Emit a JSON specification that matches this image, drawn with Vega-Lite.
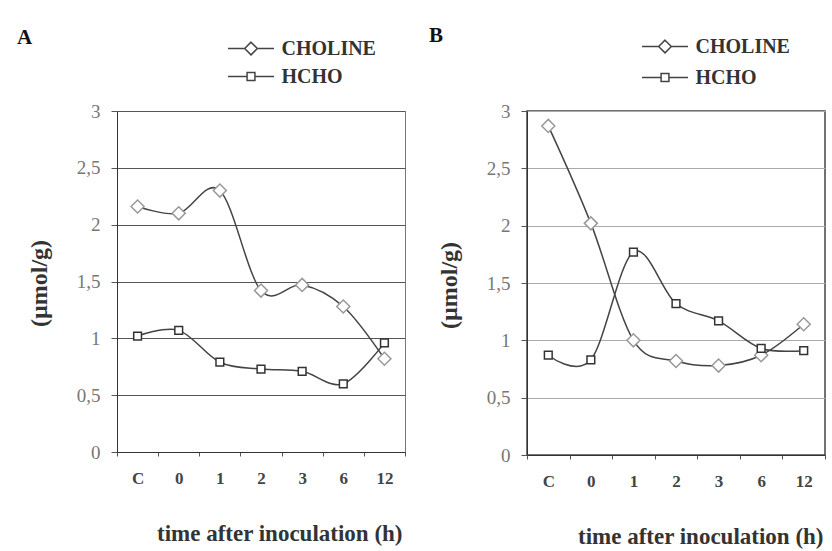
{
  "$schema": "https://vega.github.io/schema/vega-lite/v6.json",
  "background": "white",
  "padding": {"left": 16, "top": 24, "right": 5, "bottom": 5},
  "spacing": 22,
  "config": {
    "font": "Liberation Serif",
    "view": {"stroke": null}
  },
  "resolve": {
    "scale": {"x": "independent", "y": "independent", "shape": "independent"},
    "legend": {"shape": "independent"}
  },
  "hconcat": [
    {
      "width": 288,
      "height": 341,
      "view": {"stroke": "#777", "strokeWidth": 1},
      "title": {"text": "A", "anchor": "start", "frame": "group", "dx": -100, "offset": -29, "baseline": "alphabetic", "fontSize": 21, "font": "Liberation Serif", "fontWeight": "bold", "color": "#111"},
      "data": {"values": [
        {"time": "C", "series": "CHOLINE", "value": 2.16},
        {"time": "0", "series": "CHOLINE", "value": 2.10},
        {"time": "1", "series": "CHOLINE", "value": 2.30},
        {"time": "2", "series": "CHOLINE", "value": 1.42},
        {"time": "3", "series": "CHOLINE", "value": 1.47},
        {"time": "6", "series": "CHOLINE", "value": 1.28},
        {"time": "12", "series": "CHOLINE", "value": 0.82},
        {"time": "C", "series": "HCHO", "value": 1.02},
        {"time": "0", "series": "HCHO", "value": 1.07},
        {"time": "1", "series": "HCHO", "value": 0.79},
        {"time": "2", "series": "HCHO", "value": 0.73},
        {"time": "3", "series": "HCHO", "value": 0.71},
        {"time": "6", "series": "HCHO", "value": 0.60},
        {"time": "12", "series": "HCHO", "value": 0.96}
      ]},
      "encoding": {
        "x": {
          "field": "time", "type": "ordinal", "sort": ["C", "0", "1", "2", "3", "6", "12"],
          "scale": {"type": "band", "paddingInner": 0, "paddingOuter": 0},
          "axis": {
            "title": "time after inoculation (h)", "titleFont": "Liberation Serif", "titleFontSize": 23, "titleFontWeight": "bold", "titleColor": "#333",
            "titleX": 285, "titleY": 81, "titleAlign": "right", "titleBaseline": "middle",
            "labelAngle": 0, "labelFont": "Liberation Serif", "labelFontSize": 17, "labelFontWeight": "bold", "labelColor": "#444", "labelPadding": 14,
            "tickBand": "extent", "tickSize": 4, "tickColor": "#555", "domainColor": "#333", "grid": false
          }
        },
        "y": {
          "field": "value", "type": "quantitative", "scale": {"domain": [0, 3]},
          "axis": {
            "title": "(µmol/g)", "titleFont": "Liberation Serif", "titleFontSize": 24, "titleFontWeight": "bold", "titleColor": "#333",
            "titleX": -78, "titleY": 172, "titleAngle": -90, "titleAlign": "center", "titleBaseline": "middle",
            "values": [0, 0.5, 1, 1.5, 2, 2.5, 3], "format": ".1~f", "labelExpr": "replace(datum.label, '.', ',')",
            "labelFont": "Liberation Serif", "labelFontSize": 19, "labelColor": "#777", "labelPadding": 11,
            "tickSize": 6, "tickColor": "#555", "domainColor": "#333", "grid": true, "gridColor": "#555", "gridWidth": 1
          }
        }
      },
      "layer": [
        {"mark": {"type": "line", "interpolate": "cardinal", "tension": 0, "color": "#444", "strokeWidth": 1.5}, "encoding": {"detail": {"field": "series"}}},
        {
          "mark": {"type": "point", "filled": false, "fill": "white", "strokeWidth": 1.5, "opacity": 1},
          "encoding": {
            "shape": {"condition": {"test": "datum.series === 'CHOLINE'", "value": "diamond"}, "value": "square"},
            "size": {"condition": {"test": "datum.series === 'CHOLINE'", "value": 170}, "value": 60},
            "stroke": {"condition": {"test": "datum.series === 'CHOLINE'", "value": "#999"}, "value": "#333"}
          }
        },
        {
          "mark": {"type": "point", "filled": false, "opacity": 0},
          "encoding": {
            "shape": {
              "field": "series", "type": "nominal",
              "scale": {"domain": ["CHOLINE", "HCHO"], "range": ["M-2,0L-0.55,0M0,-0.55L0.55,0L0,0.55L-0.55,0ZM0.55,0L2,0", "M-2,0L-0.34,0M-0.34,-0.34L0.34,-0.34L0.34,0.34L-0.34,0.34ZM0.34,0L2,0"]},
              "legend": {
                "orient": "none", "legendX": 121.5, "legendY": -75, "title": null, "symbolSize": 529, "labelOffset": 18, "rowPadding": 5,
                "labelFont": "Liberation Serif", "labelFontSize": 20, "labelFontWeight": "bold", "labelColor": "#333", "symbolStrokeWidth": 1.5,
                "symbolStrokeColor": "#444", "symbolFillColor": "white", "symbolOpacity": 1
              }
            }
          }
        }
      ]
    },
    {
      "width": 298,
      "height": 344,
      "view": {"stroke": "#444", "strokeWidth": 1.5},
      "title": {"text": "B", "anchor": "start", "frame": "group", "dx": -98, "offset": -29, "baseline": "alphabetic", "fontSize": 21, "font": "Liberation Serif", "fontWeight": "bold", "color": "#111"},
      "data": {"values": [
        {"time": "C", "series": "CHOLINE", "value": 2.87},
        {"time": "0", "series": "CHOLINE", "value": 2.02},
        {"time": "1", "series": "CHOLINE", "value": 1.00},
        {"time": "2", "series": "CHOLINE", "value": 0.82},
        {"time": "3", "series": "CHOLINE", "value": 0.78},
        {"time": "6", "series": "CHOLINE", "value": 0.87},
        {"time": "12", "series": "CHOLINE", "value": 1.14},
        {"time": "C", "series": "HCHO", "value": 0.87},
        {"time": "0", "series": "HCHO", "value": 0.83},
        {"time": "1", "series": "HCHO", "value": 1.77},
        {"time": "2", "series": "HCHO", "value": 1.32},
        {"time": "3", "series": "HCHO", "value": 1.17},
        {"time": "6", "series": "HCHO", "value": 0.93},
        {"time": "12", "series": "HCHO", "value": 0.91}
      ]},
      "encoding": {
        "x": {
          "field": "time", "type": "ordinal", "sort": ["C", "0", "1", "2", "3", "6", "12"],
          "scale": {"type": "band", "paddingInner": 0, "paddingOuter": 0},
          "axis": {
            "title": "time after inoculation (h)", "titleFont": "Liberation Serif", "titleFontSize": 23, "titleFontWeight": "bold", "titleColor": "#333",
            "titleX": 296, "titleY": 81, "titleAlign": "right", "titleBaseline": "middle",
            "labelAngle": 0, "labelFont": "Liberation Serif", "labelFontSize": 17, "labelFontWeight": "bold", "labelColor": "#444", "labelPadding": 14,
            "tickBand": "extent", "tickSize": 4, "tickColor": "#555", "domainColor": "#333", "grid": false
          }
        },
        "y": {
          "field": "value", "type": "quantitative", "scale": {"domain": [0, 3]},
          "axis": {
            "title": "(µmol/g)", "titleFont": "Liberation Serif", "titleFontSize": 24, "titleFontWeight": "bold", "titleColor": "#333",
            "titleX": -78, "titleY": 174, "titleAngle": -90, "titleAlign": "center", "titleBaseline": "middle",
            "values": [0, 0.5, 1, 1.5, 2, 2.5, 3], "format": ".1~f", "labelExpr": "replace(datum.label, '.', ',')",
            "labelFont": "Liberation Serif", "labelFontSize": 19, "labelColor": "#777", "labelPadding": 11,
            "tickSize": 6, "tickColor": "#555", "domainColor": "#333", "grid": true, "gridColor": "#aaa", "gridWidth": 1
          }
        }
      },
      "layer": [
        {"mark": {"type": "line", "interpolate": "cardinal", "tension": 0, "color": "#444", "strokeWidth": 1.5}, "encoding": {"detail": {"field": "series"}}},
        {
          "mark": {"type": "point", "filled": false, "fill": "white", "strokeWidth": 1.5, "opacity": 1},
          "encoding": {
            "shape": {"condition": {"test": "datum.series === 'CHOLINE'", "value": "diamond"}, "value": "square"},
            "size": {"condition": {"test": "datum.series === 'CHOLINE'", "value": 170}, "value": 60},
            "stroke": {"condition": {"test": "datum.series === 'CHOLINE'", "value": "#999"}, "value": "#333"}
          }
        },
        {
          "mark": {"type": "point", "filled": false, "opacity": 0},
          "encoding": {
            "shape": {
              "field": "series", "type": "nominal",
              "scale": {"domain": ["CHOLINE", "HCHO"], "range": ["M-2,0L-0.55,0M0,-0.55L0.55,0L0,0.55L-0.55,0ZM0.55,0L2,0", "M-2,0L-0.34,0M-0.34,-0.34L0.34,-0.34L0.34,0.34L-0.34,0.34ZM0.34,0L2,0"]},
              "legend": {
                "orient": "none", "legendX": 125.5, "legendY": -77, "title": null, "symbolSize": 529, "labelOffset": 18, "rowPadding": 8,
                "labelFont": "Liberation Serif", "labelFontSize": 20, "labelFontWeight": "bold", "labelColor": "#333", "symbolStrokeWidth": 1.5,
                "symbolStrokeColor": "#444", "symbolFillColor": "white", "symbolOpacity": 1
              }
            }
          }
        }
      ]
    }
  ]
}
